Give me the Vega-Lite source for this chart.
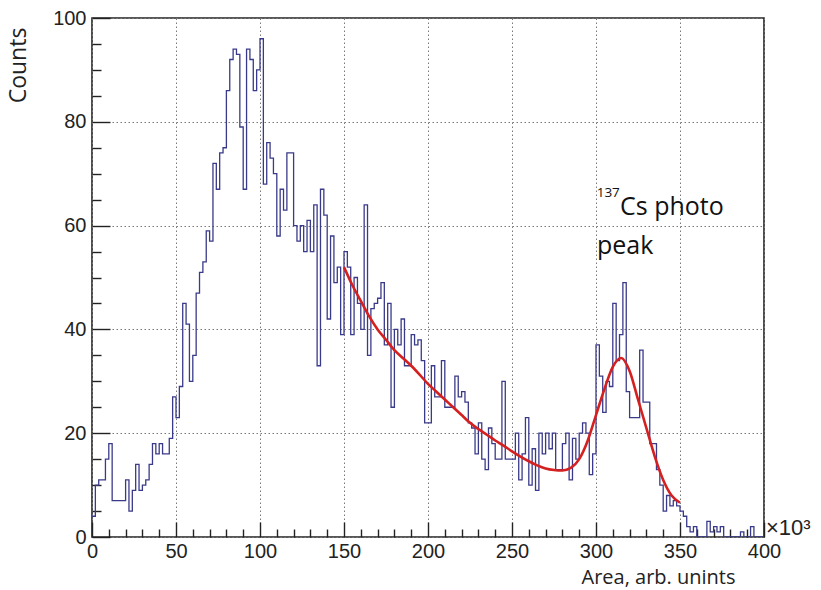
{
  "$schema": "https://vega.github.io/schema/vega-lite/v6.json",
  "width": 672,
  "height": 519,
  "autosize": {"type": "none"},
  "padding": {"left": 92, "top": 18, "right": 57, "bottom": 53},
  "background": "#ffffff",
  "config": {
    "view": {"stroke": "#222222", "strokeWidth": 1.6},
    "axis": {
      "domain": false,
      "labelFont": "Liberation Sans",
      "labelFontSize": 20,
      "labelColor": "#222222",
      "labelFlush": false,
      "labelOverlap": false,
      "tickColor": "#222222",
      "tickWidth": 1.4,
      "gridColor": "#7a7a7a",
      "gridDash": [1.5, 2.5],
      "gridWidth": 1,
      "titleFont": "Open Sans",
      "titleFontWeight": "normal",
      "titleColor": "#222222"
    }
  },
  "datasets": {
    "hist": [
      {"a": 0, "n": 4}, {"a": 2, "n": 10}, {"a": 4, "n": 11}, {"a": 6, "n": 11}, {"a": 8, "n": 15},
      {"a": 10, "n": 18}, {"a": 12, "n": 7}, {"a": 14, "n": 7}, {"a": 16, "n": 7}, {"a": 18, "n": 7},
      {"a": 20, "n": 11}, {"a": 22, "n": 5}, {"a": 24, "n": 9}, {"a": 26, "n": 14}, {"a": 28, "n": 9},
      {"a": 30, "n": 10}, {"a": 32, "n": 11}, {"a": 34, "n": 14}, {"a": 36, "n": 18}, {"a": 38, "n": 16},
      {"a": 40, "n": 18}, {"a": 42, "n": 16}, {"a": 44, "n": 16}, {"a": 46, "n": 19}, {"a": 48, "n": 27},
      {"a": 50, "n": 23}, {"a": 52, "n": 29}, {"a": 54, "n": 45}, {"a": 56, "n": 41}, {"a": 58, "n": 30},
      {"a": 60, "n": 35}, {"a": 62, "n": 47}, {"a": 64, "n": 51}, {"a": 66, "n": 53}, {"a": 68, "n": 59},
      {"a": 70, "n": 57}, {"a": 72, "n": 72}, {"a": 74, "n": 67}, {"a": 76, "n": 74}, {"a": 78, "n": 75},
      {"a": 80, "n": 86}, {"a": 82, "n": 92}, {"a": 84, "n": 94}, {"a": 86, "n": 93}, {"a": 88, "n": 79},
      {"a": 90, "n": 67}, {"a": 92, "n": 94}, {"a": 94, "n": 92}, {"a": 96, "n": 86}, {"a": 98, "n": 90},
      {"a": 100, "n": 96}, {"a": 102, "n": 68}, {"a": 104, "n": 76}, {"a": 106, "n": 73}, {"a": 108, "n": 70},
      {"a": 110, "n": 58}, {"a": 112, "n": 67}, {"a": 114, "n": 63}, {"a": 116, "n": 74}, {"a": 118, "n": 74},
      {"a": 120, "n": 60}, {"a": 122, "n": 57}, {"a": 124, "n": 60}, {"a": 126, "n": 55}, {"a": 128, "n": 61},
      {"a": 130, "n": 55}, {"a": 132, "n": 64}, {"a": 134, "n": 33}, {"a": 136, "n": 67}, {"a": 138, "n": 62},
      {"a": 140, "n": 42}, {"a": 142, "n": 58}, {"a": 144, "n": 49}, {"a": 146, "n": 52}, {"a": 148, "n": 39},
      {"a": 150, "n": 55}, {"a": 152, "n": 52}, {"a": 154, "n": 39}, {"a": 156, "n": 50}, {"a": 158, "n": 45},
      {"a": 160, "n": 40}, {"a": 162, "n": 64}, {"a": 164, "n": 35}, {"a": 166, "n": 44}, {"a": 168, "n": 45},
      {"a": 170, "n": 46}, {"a": 172, "n": 49}, {"a": 174, "n": 37}, {"a": 176, "n": 45}, {"a": 178, "n": 25},
      {"a": 180, "n": 40}, {"a": 182, "n": 37}, {"a": 184, "n": 42}, {"a": 186, "n": 33}, {"a": 188, "n": 33},
      {"a": 190, "n": 39}, {"a": 192, "n": 37}, {"a": 194, "n": 38}, {"a": 196, "n": 34}, {"a": 198, "n": 22},
      {"a": 200, "n": 22}, {"a": 202, "n": 33}, {"a": 204, "n": 27}, {"a": 206, "n": 27}, {"a": 208, "n": 34},
      {"a": 210, "n": 25}, {"a": 212, "n": 25}, {"a": 214, "n": 25}, {"a": 216, "n": 31}, {"a": 218, "n": 27},
      {"a": 220, "n": 28}, {"a": 222, "n": 26}, {"a": 224, "n": 22}, {"a": 226, "n": 21}, {"a": 228, "n": 16},
      {"a": 230, "n": 22}, {"a": 232, "n": 15}, {"a": 234, "n": 13}, {"a": 236, "n": 21}, {"a": 238, "n": 18},
      {"a": 240, "n": 15}, {"a": 242, "n": 15}, {"a": 244, "n": 30}, {"a": 246, "n": 15}, {"a": 248, "n": 15},
      {"a": 250, "n": 15}, {"a": 252, "n": 20}, {"a": 254, "n": 11}, {"a": 256, "n": 16}, {"a": 258, "n": 23},
      {"a": 260, "n": 10}, {"a": 262, "n": 17}, {"a": 264, "n": 9}, {"a": 266, "n": 20}, {"a": 268, "n": 16},
      {"a": 270, "n": 20}, {"a": 272, "n": 17}, {"a": 274, "n": 20}, {"a": 276, "n": 13}, {"a": 278, "n": 13},
      {"a": 280, "n": 18}, {"a": 282, "n": 20}, {"a": 284, "n": 11}, {"a": 286, "n": 19}, {"a": 288, "n": 15},
      {"a": 290, "n": 20}, {"a": 292, "n": 22}, {"a": 294, "n": 20}, {"a": 296, "n": 12}, {"a": 298, "n": 16},
      {"a": 300, "n": 37}, {"a": 302, "n": 31}, {"a": 304, "n": 24}, {"a": 306, "n": 30}, {"a": 308, "n": 29},
      {"a": 310, "n": 45}, {"a": 312, "n": 34}, {"a": 314, "n": 39}, {"a": 316, "n": 49}, {"a": 318, "n": 28},
      {"a": 320, "n": 23}, {"a": 322, "n": 23}, {"a": 324, "n": 23}, {"a": 326, "n": 36}, {"a": 328, "n": 26},
      {"a": 330, "n": 26}, {"a": 332, "n": 18}, {"a": 334, "n": 18}, {"a": 336, "n": 13}, {"a": 338, "n": 10},
      {"a": 340, "n": 5}, {"a": 342, "n": 8}, {"a": 344, "n": 6}, {"a": 346, "n": 7}, {"a": 348, "n": 6},
      {"a": 350, "n": 5}, {"a": 352, "n": 4}, {"a": 354, "n": 2}, {"a": 356, "n": 1}, {"a": 358, "n": 2},
      {"a": 360, "n": 0}, {"a": 362, "n": 0}, {"a": 364, "n": 0}, {"a": 366, "n": 3}, {"a": 368, "n": 1},
      {"a": 370, "n": 2}, {"a": 372, "n": 1}, {"a": 374, "n": 2}, {"a": 376, "n": 0}, {"a": 378, "n": 0},
      {"a": 380, "n": 0}, {"a": 382, "n": 0}, {"a": 384, "n": 0}, {"a": 386, "n": 1}, {"a": 388, "n": 0},
      {"a": 390, "n": 0}, {"a": 392, "n": 2}, {"a": 394, "n": 0}, {"a": 396, "n": 0}, {"a": 398, "n": 0},
      {"a": 400, "n": 0}
    ],
    "fit": [
      {"e": 150, "f": 52}, {"e": 155, "f": 48.5}, {"e": 160, "f": 45.5}, {"e": 165, "f": 42.5},
      {"e": 170, "f": 40}, {"e": 175, "f": 38}, {"e": 180, "f": 36}, {"e": 185, "f": 34.5},
      {"e": 190, "f": 33}, {"e": 195, "f": 31.3}, {"e": 200, "f": 29.5}, {"e": 205, "f": 28},
      {"e": 210, "f": 26.5}, {"e": 215, "f": 25}, {"e": 220, "f": 23.5}, {"e": 225, "f": 22},
      {"e": 230, "f": 20.8}, {"e": 235, "f": 19.7}, {"e": 240, "f": 18.6}, {"e": 245, "f": 17.6},
      {"e": 250, "f": 16.5}, {"e": 255, "f": 15.5}, {"e": 260, "f": 14.6}, {"e": 265, "f": 13.8},
      {"e": 270, "f": 13.2}, {"e": 275, "f": 12.9}, {"e": 280, "f": 12.8}, {"e": 285, "f": 13.3},
      {"e": 290, "f": 15}, {"e": 295, "f": 18.5}, {"e": 300, "f": 23.5}, {"e": 305, "f": 28.5},
      {"e": 310, "f": 32.8}, {"e": 315, "f": 34.5}, {"e": 320, "f": 32}, {"e": 325, "f": 26.5},
      {"e": 330, "f": 21}, {"e": 335, "f": 15.5}, {"e": 340, "f": 11}, {"e": 345, "f": 8},
      {"e": 350, "f": 6.6}
    ]
  },
  "layer": [
    {
      "data": {"name": "hist"},
      "mark": {"type": "line", "interpolate": "step-after", "color": "#3a3a8a", "strokeWidth": 1.3, "clip": true},
      "encoding": {
        "x": {
          "field": "a", "type": "quantitative",
          "scale": {"domain": [0, 400], "nice": false, "zero": false},
          "axis": {
            "values": [0, 10, 20, 30, 40, 50, 60, 70, 80, 90, 100, 110, 120, 130, 140, 150, 160, 170, 180, 190, 200, 210, 220, 230, 240, 250, 260, 270, 280, 290, 300, 310, 320, 330, 340, 350, 360, 370, 380, 390, 400],
            "tickCount": 200,
            "format": "d",
            "labelExpr": "datum.value % 50 === 0 ? datum.label : ''",
            "orient": "bottom",
            "grid": true,
            "gridOpacity": {"condition": {"test": "datum.value % 50 === 0", "value": 1}, "value": 0},
            "tickSize": {"condition": {"test": "datum.value % 50 === 0", "value": -15}, "value": -8},
            "labelPadding": 19,
            "title": "Area, arb. unints",
            "titleFontSize": 20,
            "titleX": 643,
            "titleY": 40,
            "titleAlign": "right",
            "titleBaseline": "middle",
            "titleAngle": 0
          }
        },
        "y": {
          "field": "n", "type": "quantitative",
          "scale": {"domain": [0, 100], "nice": false},
          "axis": {
            "values": [0, 5, 10, 15, 20, 25, 30, 35, 40, 45, 50, 55, 60, 65, 70, 75, 80, 85, 90, 95, 100],
            "tickCount": 200,
            "format": "d",
            "labelExpr": "datum.value % 20 === 0 ? datum.label : ''",
            "orient": "left",
            "grid": true,
            "gridOpacity": {"condition": {"test": "datum.value % 20 === 0", "value": 1}, "value": 0},
            "tickSize": {"condition": {"test": "datum.value % 20 === 0", "value": -18}, "value": -9},
            "labelPadding": 24,
            "title": "Counts",
            "titleFontSize": 23,
            "titleAngle": -90,
            "titleX": -74,
            "titleY": 47,
            "titleAlign": "center",
            "titleBaseline": "middle"
          }
        }
      }
    },
    {
      "data": {"name": "fit"},
      "mark": {"type": "line", "interpolate": "monotone", "color": "#d42020", "strokeWidth": 2.6},
      "encoding": {
        "x": {"field": "e", "type": "quantitative"},
        "y": {"field": "f", "type": "quantitative"}
      }
    },
    {
      "data": {"values": [{}]},
      "mark": {"type": "text", "text": "×10³", "font": "Liberation Sans", "fontSize": 22, "align": "left", "baseline": "middle", "dx": 2, "dy": -9, "color": "#222222"},
      "encoding": {"x": {"datum": 400, "type": "quantitative"}, "y": {"datum": 0, "type": "quantitative"}}
    },
    {
      "data": {"values": [{}]},
      "mark": {"type": "text", "text": "137", "font": "Open Sans", "fontSize": 13.5, "align": "left", "baseline": "middle", "color": "#111111"},
      "encoding": {"x": {"datum": 300.4, "type": "quantitative"}, "y": {"datum": 66.3, "type": "quantitative"}}
    },
    {
      "data": {"values": [{}]},
      "mark": {"type": "text", "text": "Cs photo", "font": "Open Sans", "fontSize": 25, "align": "left", "baseline": "middle", "color": "#111111"},
      "encoding": {"x": {"datum": 314.3, "type": "quantitative"}, "y": {"datum": 63.6, "type": "quantitative"}}
    },
    {
      "data": {"values": [{}]},
      "mark": {"type": "text", "text": "peak", "font": "Open Sans", "fontSize": 25, "align": "left", "baseline": "middle", "color": "#111111"},
      "encoding": {"x": {"datum": 300.6, "type": "quantitative"}, "y": {"datum": 56.1, "type": "quantitative"}}
    }
  ]
}
